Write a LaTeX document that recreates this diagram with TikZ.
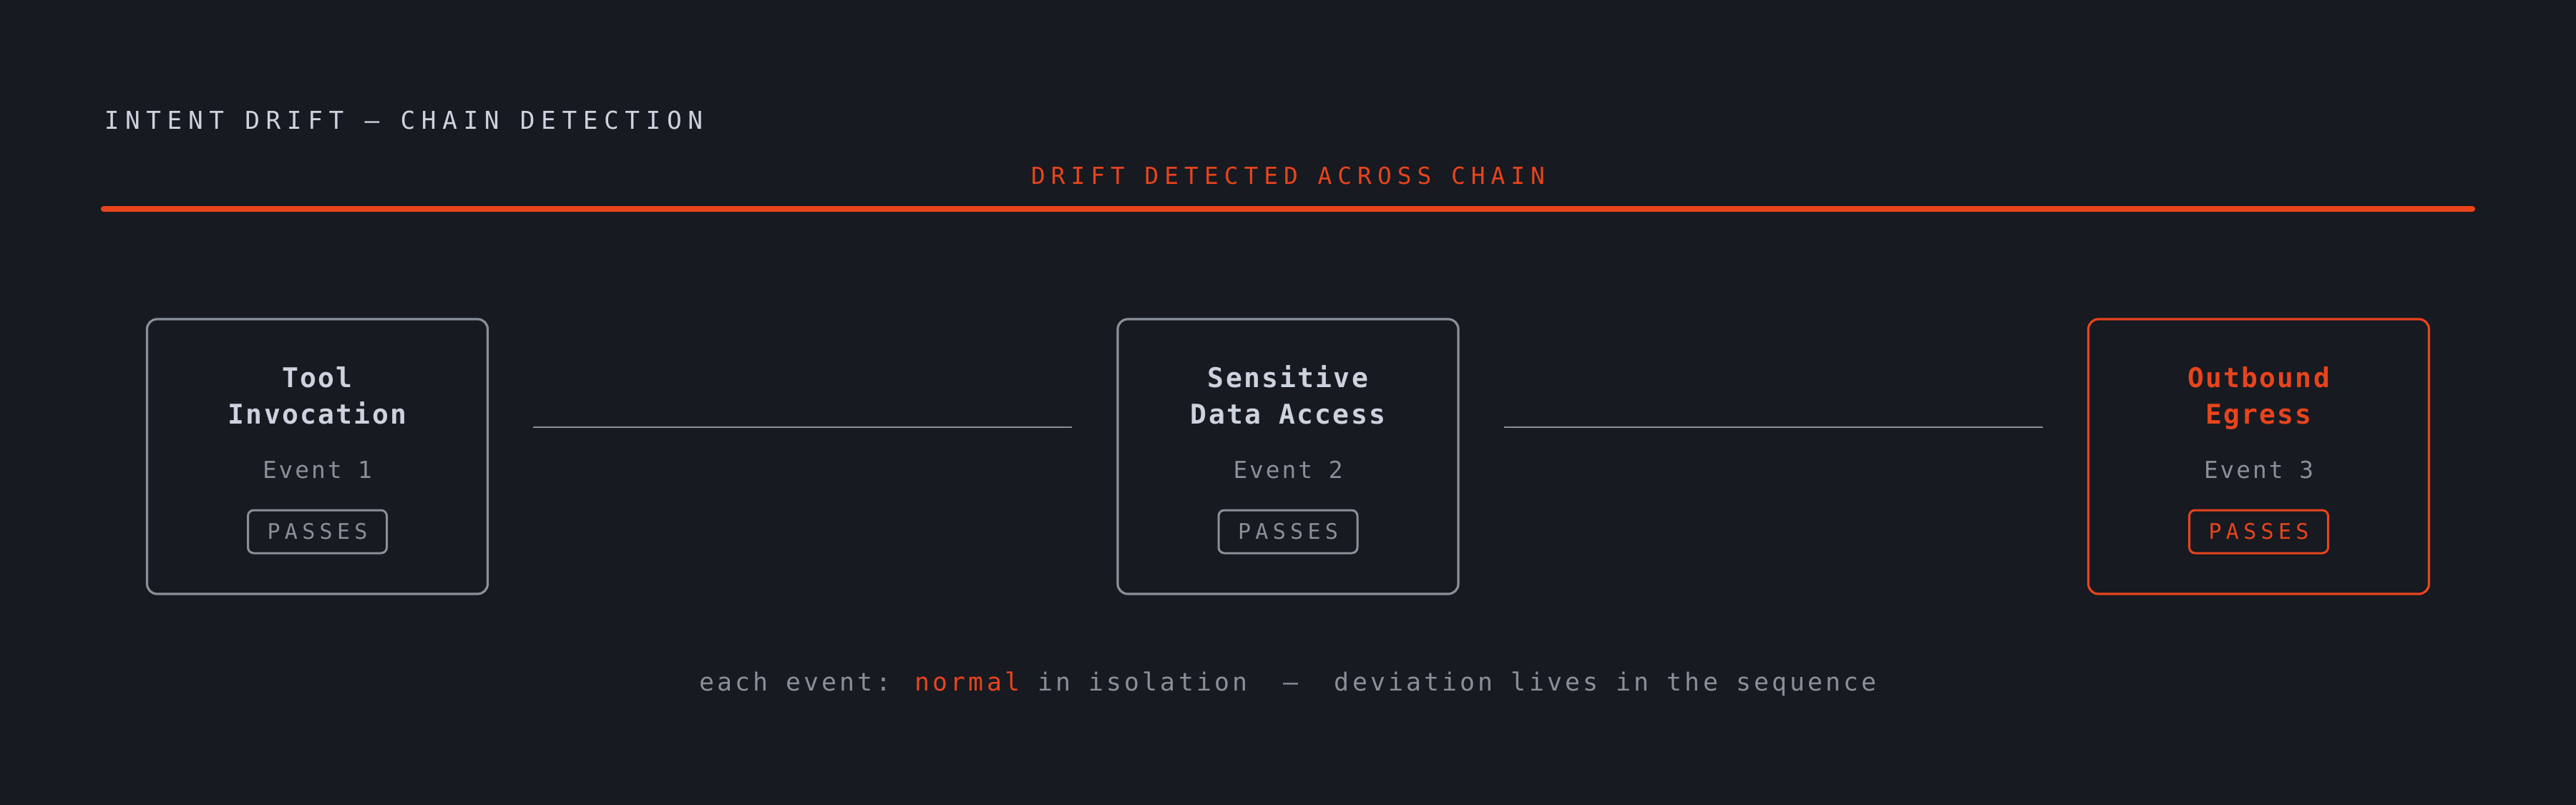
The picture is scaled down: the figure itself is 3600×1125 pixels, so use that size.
\documentclass[tikz,border=0pt]{standalone}
\usepackage{fontspec}
\setmainfont{DejaVu Sans Mono}
\usepackage{tikz}

\definecolor{bgpage}{HTML}{171A21}
\definecolor{alert}{HTML}{E8441C}
\definecolor{ink}{HTML}{CDD3DE}
\definecolor{mute}{HTML}{8A9099}

\newcommand\headfont{\fontsize{8.6pt}{10pt}\selectfont\addfontfeature{LetterSpace=25}}
\newcommand\driftfont{\fontsize{8.2pt}{10pt}\selectfont\addfontfeature{LetterSpace=24.5}}
\newcommand\evtitlefont{\fontsize{9.5pt}{12pt}\selectfont\bfseries\addfontfeature{LetterSpace=6}}
\newcommand\evnumfont{\fontsize{8.2pt}{10pt}\selectfont\addfontfeature{LetterSpace=9}}
\newcommand\tagfont{\fontsize{7.5pt}{9pt}\selectfont\addfontfeature{LetterSpace=21}}
\newcommand\footfont{\fontsize{8.7pt}{10pt}\selectfont\addfontfeature{LetterSpace=12}}

\begin{document}
\begin{tikzpicture}[x=0.25pt,y=-0.25pt,
  evbox/.style={draw=#1,line width=0.8pt,rounded corners=3.5pt,
    minimum width=119pt,minimum height=96pt,inner sep=0pt},
  evtag/.style={draw=#1,text=#1,line width=0.75pt,rounded corners=2pt,
    minimum width=48.5pt,minimum height=15pt,inner sep=0pt,font=\tagfont},
  link/.style={draw=mute,line width=0.6pt,shorten <=15.5pt,shorten >=15.5pt}]
  \fill[bgpage] (0,0) rectangle (3600,1125);
  \useasboundingbox (0,0) rectangle (3600,1125);

  \node[anchor=base west,inner sep=0pt,text=ink,font=\headfont] (head) at (145,180)
    {INTENT DRIFT — CHAIN DETECTION};
  \node[anchor=base,inner sep=0pt,text=alert,font=\driftfont] (drift) at (1800,257)
    {DRIFT DETECTED ACROSS CHAIN};
  \draw[alert,line width=2.1pt,line cap=round] (145,292) -- (3455,292);

  \foreach \i/\x/\ta/\tb/\c/\tc in {1/443.5/Tool/Invocation/mute/ink,
      2/1800/Sensitive/Data Access/mute/ink,
      3/3156.5/Outbound/Egress/alert/alert}{
    \node[evbox=\c] (ev\i) at (\x,638) {};
    \node[anchor=base,inner sep=0pt,text=\tc,font=\evtitlefont] (ev\i-a) at (\x,541) {\ta};
    \node[anchor=base,inner sep=0pt,text=\tc,font=\evtitlefont] (ev\i-b) at (\x,592) {\tb};
    \node[anchor=base,inner sep=0pt,text=mute,font=\evnumfont] (ev\i-n) at (\x,668) {Event \i};
    \node[evtag=\c] (ev\i-t) at (\x,743) {PASSES};
  }

  \draw[link] ([yshift=10.25pt]ev1.east) -- ([yshift=10.25pt]ev2.west);
  \draw[link] ([yshift=10.25pt]ev2.east) -- ([yshift=10.25pt]ev3.west);

  \node[anchor=base,inner sep=0pt,text=mute,font=\footfont] (note) at (1800,965)
    {each event: \textcolor{alert}{normal} in isolation~~—~~deviation lives in the sequence};
  %\node at (1800,1100) {};
\end{tikzpicture}
\end{document}
